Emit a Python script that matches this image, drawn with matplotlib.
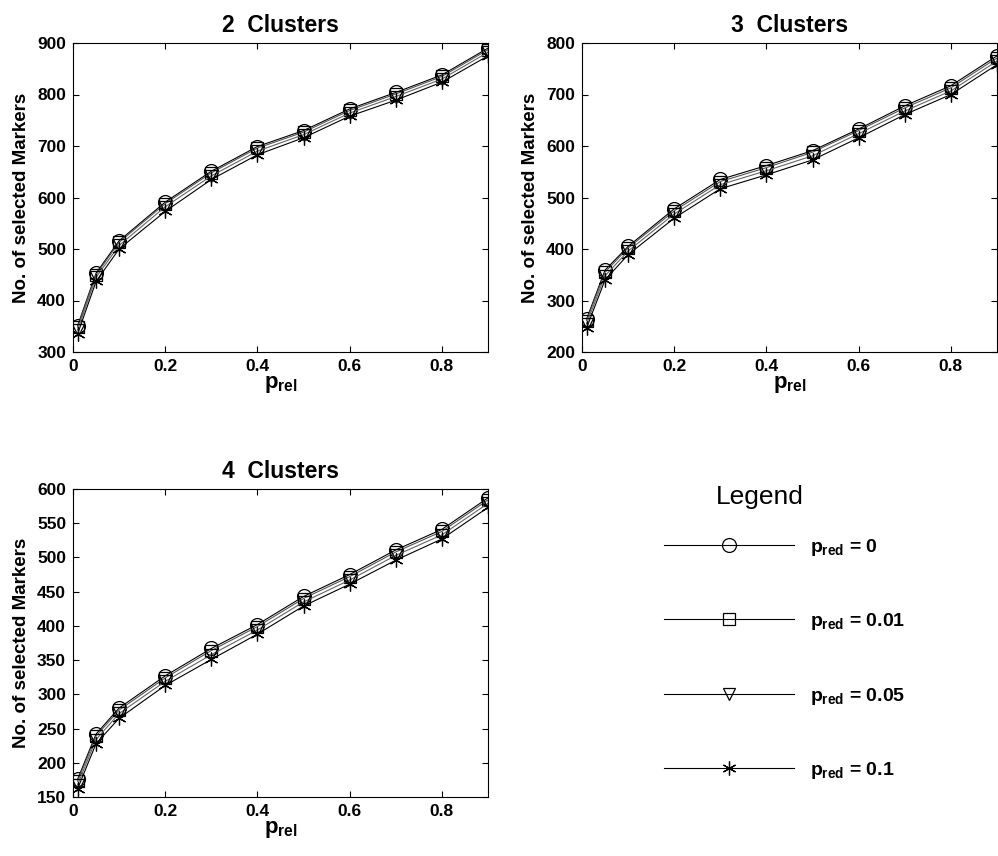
import matplotlib
matplotlib.use("Agg")
import matplotlib.pyplot as plt
from matplotlib.lines import Line2D

plt.rcParams['font.family'] = ['Liberation Sans', 'DejaVu Sans']
plt.rcParams['font.weight'] = 'bold'
plt.rcParams['mathtext.fontset'] = 'custom'
plt.rcParams['mathtext.rm'] = 'Liberation Sans:bold'
plt.rcParams['mathtext.it'] = 'Liberation Sans:bold'
plt.rcParams['mathtext.bf'] = 'Liberation Sans:bold'

p_rel = [0.01, 0.05, 0.1, 0.2, 0.3, 0.4, 0.5, 0.6, 0.7, 0.8, 0.9]
p_red_labels = ['0', '0.01', '0.05', '0.1']

c2_p0    = [351, 453, 516, 591, 651, 699, 730, 772, 804, 838, 890]
c2_p001  = [348, 450, 513, 588, 648, 696, 727, 769, 801, 835, 887]
c2_p005  = [343, 445, 507, 582, 642, 690, 722, 764, 796, 830, 882]
c2_p01   = [335, 437, 500, 573, 635, 683, 716, 758, 789, 824, 875]

c3_p0    = [264, 359, 405, 478, 535, 562, 591, 633, 678, 717, 775]
c3_p001  = [261, 355, 402, 474, 531, 558, 588, 630, 674, 713, 771]
c3_p005  = [255, 348, 396, 468, 525, 552, 581, 624, 668, 707, 765]
c3_p01   = [247, 340, 389, 460, 517, 544, 573, 616, 661, 700, 758]

c4_p0    = [176, 242, 280, 327, 367, 402, 443, 475, 511, 541, 587]
c4_p001  = [173, 239, 277, 324, 364, 399, 440, 472, 508, 538, 584]
c4_p005  = [168, 234, 272, 319, 358, 394, 435, 467, 503, 533, 579]
c4_p01   = [162, 228, 265, 313, 351, 388, 429, 461, 496, 527, 573]

panels = [
    ("2  Clusters", [c2_p0, c2_p001, c2_p005, c2_p01], (300, 900), list(range(300, 901, 100))),
    ("3  Clusters", [c3_p0, c3_p001, c3_p005, c3_p01], (200, 800), list(range(200, 801, 100))),
    ("4  Clusters", [c4_p0, c4_p001, c4_p005, c4_p01], (150, 600), list(range(150, 601, 50))),
]

markers = ['o', 's', 'v', '*']
msizes = [10, 8, 9, 10]
colors = ['black', '#555555', '#666666', 'black']

W, H = 998, 856
fig = plt.figure(figsize=(W / 100, H / 100), dpi=100)

def ax_rect(l, r, t, b):
    return [l / W, 1 - b / H, (r - l) / W, (b - t) / H]

rects = [ax_rect(73, 488, 43, 352), ax_rect(582, 997, 43, 352), ax_rect(73, 488, 489, 797)]

def mk_kwargs(j):
    if markers[j] == '*':
        return dict(marker=(6, 2, 0), markersize=msizes[j],
                    markeredgecolor='black', markeredgewidth=0.9)
    return dict(marker=markers[j], markersize=msizes[j], markerfacecolor='none',
                markeredgecolor='black', markeredgewidth=0.9)

for i, (title, series, ylim, yticks) in enumerate(panels):
    ax = fig.add_axes(rects[i])
    for j, ys in enumerate(series):
        ax.plot(p_rel, ys, color=colors[j], lw=0.8, **mk_kwargs(j))
    ax.set_xlim(0, 0.9)
    ax.set_ylim(*ylim)
    ax.set_yticks(yticks)
    ax.set_xticks([0, 0.2, 0.4, 0.6, 0.8])
    ax.set_xticklabels(['0', '0.2', '0.4', '0.6', '0.8'])
    ax.tick_params(direction='in', top=True, right=True, labelsize=12.5, length=4,
                   width=0.8, pad=5)
    for sp in ax.spines.values():
        sp.set_linewidth(0.8)
    ax.set_title(title, fontsize=16.5, fontweight='bold', pad=8)
    ax.set_xlabel(r'$p_{rel}$', fontsize=16, labelpad=0)
    ax.set_ylabel('No. of selected Markers', fontsize=13.5, fontweight='bold', labelpad=5)

leg_handles = [Line2D([], [], color='black', lw=0.8, **mk_kwargs(j)) for j in range(4)]

leg = fig.legend(leg_handles, [r'$p_{red}$ = ' + s for s in p_red_labels],
                 loc='upper left', bbox_to_anchor=(656 / W, 1 - 529 / H),
                 frameon=False, fontsize=14, handlelength=6.7, labelspacing=2.75,
                 handletextpad=0.8, numpoints=1, borderaxespad=0)
fig.text(760 / W, 1 - 497 / H, 'Legend', fontsize=19, fontweight='normal',
         ha='center', va='center')

fig.savefig('out.png', dpi=100)
